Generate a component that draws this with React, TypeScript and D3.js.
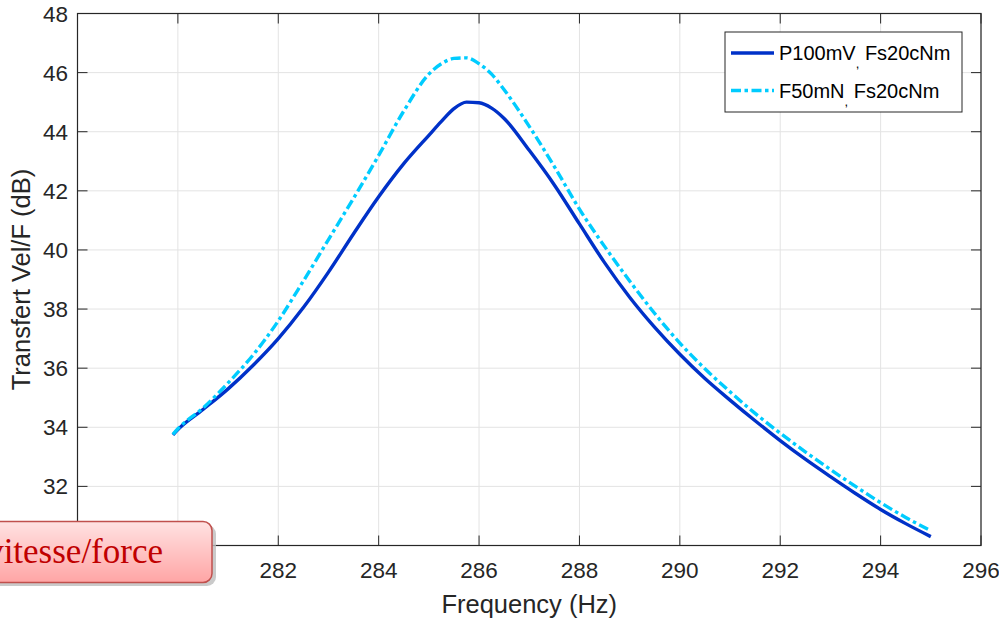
import React from 'react';
import * as d3 from 'd3';

// frequency grid (Hz)
const freqs = [279.9, 280, 280.5, 281, 281.5, 282, 282.5, 283, 283.5, 284, 284.5, 285, 285.25, 285.5, 285.75, 286, 286.25, 286.5, 287, 287.5, 288, 288.5, 289, 289.5, 290, 290.5, 291, 291.5, 292, 292.5, 293, 293.5, 294, 294.5, 295];

// P100mV, Fs20cNm (solid)
const p100 = [33.74, 33.92, 34.6, 35.3, 36.1, 37.0, 38.05, 39.25, 40.55, 41.8, 42.92, 43.88, 44.35, 44.78, 45.0, 44.98, 44.8, 44.45, 43.37, 42.2, 40.88, 39.57, 38.4, 37.38, 36.47, 35.65, 34.92, 34.22, 33.55, 32.92, 32.33, 31.76, 31.22, 30.74, 30.3];

// F50mN, Fs20cNm (dash-dot)
const f50 = [33.76, 33.95, 34.65, 35.5, 36.45, 37.6, 38.95, 40.35, 41.75, 43.2, 44.7, 45.95, 46.3, 46.48, 46.5, 46.3, 45.95, 45.42, 44.18, 42.82, 41.38, 40.12, 38.95, 37.85, 36.85, 35.98, 35.2, 34.47, 33.8, 33.17, 32.57, 32.0, 31.45, 30.95, 30.5];

const xTicks = [280, 282, 284, 286, 288, 290, 292, 294, 296];
const yTicks = [30, 32, 34, 36, 38, 40, 42, 44, 46, 48];
// labels hidden behind the annotation box in the original
const hiddenX = [280];
const hiddenY = [30];

const W = 999;
const H = 622;
const margin = { top: 13.5, right: 18, bottom: 76.5, left: 77.5 };

const App = () => {
  const x = d3.scaleLinear().domain([278, 296]).range([margin.left, W - margin.right]);
  const y = d3.scaleLinear().domain([30, 48]).range([H - margin.bottom, margin.top]);

  const line = d3.line<number>()
    .x((d, i) => x(freqs[i]))
    .y((d) => y(d))
    .curve(d3.curveMonotoneX);

  const x0 = x.range()[0], x1 = x.range()[1];
  const y0 = y.range()[0], y1 = y.range()[1];
  const axisColor = '#262626';
  const font = '"Liberation Sans", Arial, sans-serif';
  const dash = '10,3.5,3.5,3.5';

  return (
    <svg width={W} height={H} style={{ position: 'absolute', left: 0, top: 0, background: '#fff' }}>
      <defs>
        <linearGradient id="boxFill" x1="0" y1="0" x2="0" y2="1">
          <stop offset="0%" stopColor="#FFE2E2" />
          <stop offset="100%" stopColor="#FFA5A5" />
        </linearGradient>
      </defs>

      {/* grid */}
      {xTicks.map(t => (
        <line key={'gx' + t} x1={x(t)} x2={x(t)} y1={y1} y2={y0} stroke="#e3e3e3" strokeWidth={1} />
      ))}
      {yTicks.map(t => (
        <line key={'gy' + t} x1={x0} x2={x1} y1={y(t)} y2={y(t)} stroke="#e3e3e3" strokeWidth={1} />
      ))}

      {/* box + ticks */}
      <rect x={x0} y={y1} width={x1 - x0} height={y0 - y1} fill="none" stroke={axisColor} strokeWidth={1.2} />
      {xTicks.map(t => (
        <g key={'tx' + t}>
          <line x1={x(t)} x2={x(t)} y1={y0} y2={y0 - 10} stroke={axisColor} />
          <line x1={x(t)} x2={x(t)} y1={y1} y2={y1 + 10} stroke={axisColor} />
          {!hiddenX.includes(t) && (
            <text x={x(t)} y={578} textAnchor="middle" fontFamily={font} fontSize={22.5} fill={axisColor}>{t}</text>
          )}
        </g>
      ))}
      {yTicks.map(t => (
        <g key={'ty' + t}>
          <line x1={x0} x2={x0 + 10} y1={y(t)} y2={y(t)} stroke={axisColor} />
          <line x1={x1} x2={x1 - 10} y1={y(t)} y2={y(t)} stroke={axisColor} />
          {!hiddenY.includes(t) && (
            <text x={68} y={y(t) + 8} textAnchor="end" fontFamily={font} fontSize={22.5} fill={axisColor}>{t}</text>
          )}
        </g>
      ))}

      {/* axis labels */}
      <text x={(x0 + x1) / 2} y={613} textAnchor="middle" fontFamily={font} fontSize={25.5} fill={axisColor}>Frequency (Hz)</text>
      <text transform={`translate(30,${(y0 + y1) / 2}) rotate(-90)`} textAnchor="middle" fontFamily={font} fontSize={25.5} fill={axisColor}>Transfert Vel/F (dB)</text>

      {/* curves */}
      <path d={line(p100) || ''} fill="none" stroke="#0031C8" strokeWidth={3.4} strokeLinejoin="round" />
      <path d={line(f50) || ''} fill="none" stroke="#00CCFF" strokeWidth={3.4} strokeDasharray={dash} />

      {/* legend */}
      <rect x={725} y={32} width={237} height={80} fill="#fff" stroke={axisColor} strokeWidth={1} />
      <line x1={731} x2={774} y1={53} y2={53} stroke="#0031C8" strokeWidth={3.4} />
      <line x1={731} x2={774} y1={90.5} y2={90.5} stroke="#00CCFF" strokeWidth={3.4} strokeDasharray={dash} />
      <text x={779} y={60} fontFamily={font} fontSize={20} fill="#000">
        P100mV<tspan fontSize={13} dy={8}>,</tspan><tspan dy={-8}> Fs20cNm</tspan>
      </text>
      <text x={779} y={97.5} fontFamily={font} fontSize={20} fill="#000">
        F50mN<tspan fontSize={13} dy={8}>,</tspan><tspan dy={-8}> Fs20cNm</tspan>
      </text>

      {/* annotation box (cut by the left edge, as in the original) */}
      <rect x={-20} y={525} width={236} height={61} rx={9} fill="#bdbdbd" opacity={0.8} />
      <rect x={-20} y={521.5} width={232} height={61} rx={9} fill="url(#boxFill)" stroke="#C0504D" strokeWidth={1.5} />
      <text x={163} y={563} textAnchor="end" fontFamily='"Liberation Serif", "DejaVu Serif", serif' fontSize={35} fill="#C00000">vitesse/force</text>
    </svg>
  );
};

export default App;
